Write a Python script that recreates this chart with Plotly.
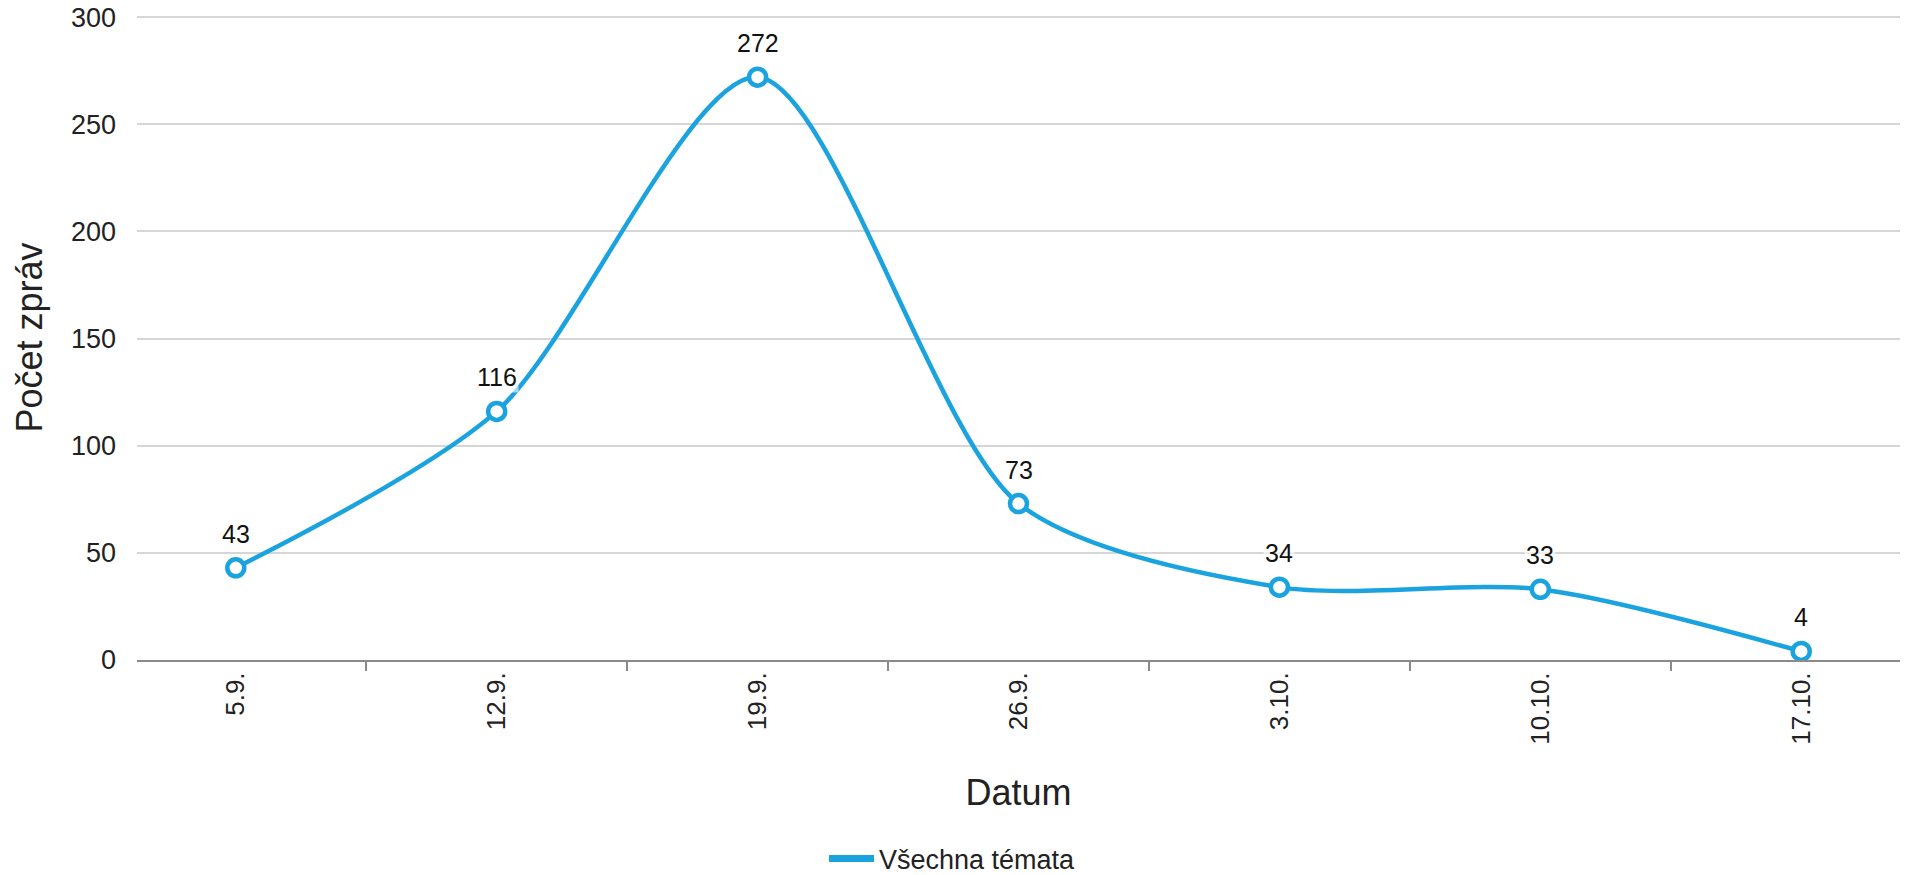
import plotly.graph_objects as go

dates = ["5.9.", "12.9.", "19.9.", "26.9.", "3.10.", "10.10.", "17.10."]
counts = [43, 116, 272, 73, 34, 33, 4]
series_name = "Všechna témata"
y_ticks = [0, 50, 100, 150, 200, 250, 300]

COLOR = "#1AA3DE"
FONT = "Liberation Sans, Arial, Helvetica, sans-serif"

fig = go.Figure()
fig.add_trace(go.Scatter(
    x=dates, y=counts, mode="lines+markers",
    line=dict(color=COLOR, width=4.5, shape="spline", smoothing=0.8),
    marker=dict(size=17, color="white", line=dict(color=COLOR, width=4.5)),
    showlegend=False, hoverinfo="x+y",
))
fig.add_trace(go.Scatter(
    x=[None], y=[None], mode="lines", name=series_name,
    line=dict(color=COLOR, width=7),
))

for d, v in zip(dates, counts):
    fig.add_annotation(
        x=d, y=v, text=str(v), showarrow=False, yanchor="bottom",
        yshift=18, font=dict(size=25, color="#111", family=FONT),
        bgcolor="rgba(255,255,255,0.6)", borderpad=1,
    )

fig.update_layout(
    width=1905, height=875,
    margin=dict(l=137, r=5, t=15, b=215, autoexpand=False),
    paper_bgcolor="white", plot_bgcolor="white",
    font=dict(family=FONT, color="#222", size=26),
    legend=dict(
        orientation="h", xref="container", yref="container",
        x=0.5, xanchor="center", y=0.0183, yanchor="middle",
        font=dict(size=27, color="#222", family=FONT),
        itemwidth=45,
    ),
    xaxis=dict(
        type="category", tickson="boundaries", ticks="outside",
        ticklen=9, tickwidth=2, tickcolor="#8a8a8a",
        showline=True, linecolor="#8a8a8a", linewidth=2,
        showgrid=False, tickangle=-90, automargin=False,
        tickfont=dict(size=26, color="#222"),
        title=dict(text="Datum", font=dict(size=36, color="#222"), standoff=36),
    ),
    yaxis=dict(
        range=[0, 301], tickvals=y_ticks, showgrid=True,
        gridcolor="#d6d6d6", gridwidth=2, zeroline=False,
        showline=False, ticks="", ticklabelstandoff=20, automargin=False,
        ticklabeloverflow="allow",
        tickfont=dict(size=27, color="#222"),
        title=dict(text="Počet zpráv", font=dict(size=36, color="#222"), standoff=17),
    ),
)

# remove the browser's default 8px page margin so the figure fills the window
fig.write_html(
    "out.html",
    config={"displayModeBar": False},
    post_script="document.body.style.margin='0';",
)
